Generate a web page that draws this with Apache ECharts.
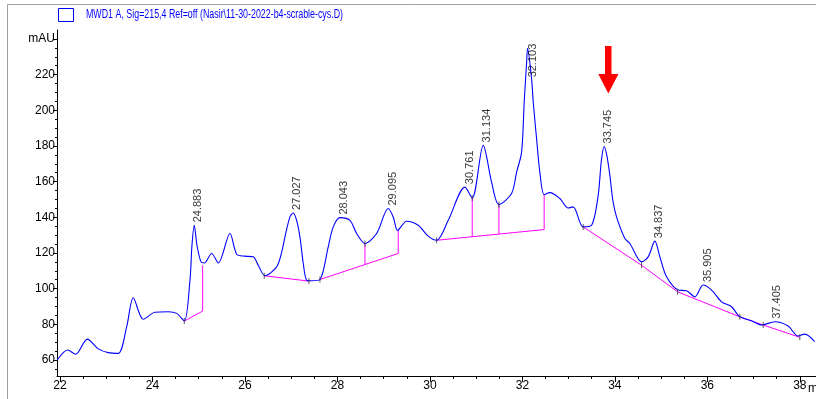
<!DOCTYPE html>
<html>
<head>
<meta charset="utf-8">
<script src="https://cdn.jsdelivr.net/npm/echarts@6/dist/echarts.min.js"></script>
<style>
html,body{margin:0;padding:0;background:#fff;}
#chart{width:816px;height:399px;}
</style>
</head>
<body>
<div id="chart"></div>
<script>
// ---- data ----
const seriesName = 'MWD1 A, Sig=215,4 Ref=off (Nasir\\11-30-2022-b4-scrable-cys.D)';
const traceTime = [21.94,22.166,22.339,22.59,22.828,23.044,23.261,23.442,23.585,23.801,24.054,24.342,24.523,24.688,24.811,24.854,24.904,24.962,25.049,25.12,25.28,25.423,25.676,25.821,26.0,26.179,26.288,26.432,26.685,26.793,26.865,26.973,27.044,27.117,27.189,27.261,27.334,27.442,27.622,27.801,27.909,28.054,28.27,28.415,28.595,28.848,29.098,29.206,29.301,29.496,29.747,29.963,30.145,30.396,30.757,30.915,31.153,31.334,31.492,31.766,31.875,31.983,32.039,32.092,32.112,32.199,32.235,32.307,32.378,32.471,32.595,32.811,32.99,33.098,33.314,33.496,33.639,33.708,33.768,33.827,33.892,33.957,34.036,34.216,34.324,34.577,34.72,34.865,34.973,35.118,35.369,35.55,35.73,35.909,36.091,36.307,36.523,36.703,36.956,37.172,37.459,37.747,37.964,38.108,38.324];
const traceAbs = [60.0,65.6,63.2,71.7,66.2,64.1,63.7,78.6,94.9,82.8,86.7,87.0,86.1,81.8,104.8,124.3,135.5,124.3,115.0,114.4,119.7,114.4,130.9,119.3,118.2,117.8,113.1,107.2,112.2,120.3,129.0,140.2,142.4,138.3,129.0,114.1,104.8,104.4,105.1,123.4,134.6,139.8,138.3,130.9,125.3,130.9,144.9,140.2,132.7,137.8,135.5,129.4,127.1,138.3,156.9,150.8,180.3,159.7,147.1,153.3,165.3,176.5,204.5,226.9,234.7,217.6,204.5,184.0,165.2,152.7,153.8,150.5,145.2,145.8,134.6,135.5,152.3,171.8,179.7,174.6,163.5,149.4,140.2,128.1,125.3,115.0,117.8,126.6,117.8,106.6,99.2,98.8,95.4,102.0,99.2,92.6,89.8,84.2,82.0,79.6,81.4,79.0,73.4,74.5,70.2];

const peakTimes = [24.883,27.027,28.043,29.095,30.761,31.134,32.103,33.745,34.837,35.905,37.405];
const peakHeights = [135.5,142.4,139.8,144.9,156.9,180.3,234.7,179.7,126.6,102.0,81.4];

const baselineA = [[24.688,81.8],[25.085,87.4],[25.085,113.1]];
const baselineB = [[26.417,107.2],[27.384,104.2]];
const baselineC = [[27.622,105.1],[29.315,119.7],[29.315,132.7]];
const baselineD = [[28.595,113.5],[28.595,125.3]];
const baselineE = [[30.145,127.1],[32.471,133.1],[32.471,152.7]];
const baselineF = [[30.915,129.1],[30.915,150.8]];
const baselineG = [[31.492,130.6],[31.492,147.1]];
const baselineH = [[33.315,134.6],[34.577,113.1],[35.356,98.2],[36.703,84.2],[37.207,79.6],[38.0,72.7]];

const markerTimes = [24.688,26.417,27.384,27.622,28.595,30.145,30.915,31.492,33.315,34.577,35.356,36.703,37.207,38.0];
const markerAbs   = [81.8,107.2,104.2,105.1,125.3,127.1,150.8,147.1,134.6,113.1,98.2,84.2,79.6,72.7];

const xLabelValues = [22,24,26,28,30,32,34,36,38];
const xMinorValues = [22,22.5,23,23.5,24,24.5,25,25.5,26,26.5,27,27.5,28,28.5,29,29.5,30,30.5,31,31.5,32,32.5,33,33.5,34,34.5,35,35.5,36,36.5,37,37.5,38];
const yLabelValues = [60,80,100,120,140,160,180,200,220,240];
const yMinorValues = [55,60,65,70,75,80,85,90,95,100,105,110,115,120,125,130,135,140,145,150,155,160,165,170,175,180,185,190,195,200,205,210,215,220,225,230,235,240];

// ---- chart ----
const FONT = "'Liberation Sans',Arial,sans-serif";
const chart = echarts.init(document.getElementById('chart'), null, {renderer:'canvas'});

// compress legend text horizontally like the original narrow font
const mctx = document.createElement('canvas').getContext('2d');
mctx.font = "12px 'Liberation Sans'";
const legendScale = 257 / mctx.measureText(seriesName).width;

const baselineStyle = {color:'#ff00ff', width:1};
function baseSeries(d){
  return {type:'line', data:d, symbol:'none', silent:true, lineStyle:baselineStyle, z:2, animation:false};
}

const xCommon = {type:'value', min:21.935, max:38.35, gridIndex:0, splitLine:{show:false}};
const yCommon = {type:'value', min:51, max:245, gridIndex:0, splitLine:{show:false}};

chart.setOption({
  animation:false,
  backgroundColor:'#fff',
  grid:{left:57, right:0, top:30, bottom:23},
  xAxis:[
    Object.assign({}, xCommon, {
      position:'bottom',
      axisLine:{show:true, lineStyle:{color:'#000', width:1}},
      axisTick:{show:true, length:6, lineStyle:{color:'#000'}, customValues:xLabelValues},
      axisLabel:{color:'#000', fontSize:12, fontFamily:FONT, margin:4, customValues:xLabelValues,
                 formatter:v=>String(v)}
    }),
    Object.assign({}, xCommon, {
      position:'bottom',
      axisLine:{show:false},
      axisTick:{show:true, length:3, lineStyle:{color:'#000'}, customValues:xMinorValues},
      axisLabel:{show:false}
    })
  ],
  yAxis:[
    Object.assign({}, yCommon, {
      position:'left',
      axisLine:{show:true, lineStyle:{color:'#000', width:1}},
      axisTick:{show:true, length:4, lineStyle:{color:'#000'}, customValues:yLabelValues},
      axisLabel:{color:'#000', fontSize:12, fontFamily:FONT, margin:2, customValues:yLabelValues,
                 formatter:v=>v===240?'mAU':String(v)}
    }),
    Object.assign({}, yCommon, {
      position:'left',
      axisLine:{show:false},
      axisTick:{show:true, length:2, lineStyle:{color:'#000'}, customValues:yMinorValues},
      axisLabel:{show:false}
    })
  ],
  graphic:[
    {type:'line', shape:{x1:7.5,y1:4.5,x2:816,y2:4.5}, style:{stroke:'#a0a0a0', lineWidth:1}, silent:true},
    {type:'line', shape:{x1:7.5,y1:4.5,x2:7.5,y2:399}, style:{stroke:'#a0a0a0', lineWidth:1}, silent:true},
    {type:'rect', shape:{x:58.5,y:8.5,width:15,height:13}, style:{fill:'#fff', stroke:'#0000ff', lineWidth:1}, silent:true},
    {type:'text', x:86, y:15, scaleX:legendScale, scaleY:1,
     style:{text:seriesName, fill:'#0000ff', font:"12px 'Liberation Sans'", textVerticalAlign:'middle', verticalAlign:'middle'}, silent:true},
    {type:'text', left:808, top:383, style:{text:'min', fill:'#000', font:"12px "+FONT}, silent:true},
    {type:'polygon', shape:{points:[[605,46],[611.5,46],[611.5,74],[618.5,74],[608.3,93.5],[598.3,74],[605,74]]},
     style:{fill:'#ff0000'}, silent:true}
  ],
  series:[
    baseSeries(baselineA), baseSeries(baselineB), baseSeries(baselineC), baseSeries(baselineD),
    baseSeries(baselineE), baseSeries(baselineF), baseSeries(baselineG), baseSeries(baselineH),
    {
      name:seriesName, type:'line', symbol:'none', smooth:0.3, z:3,
      lineStyle:{color:'#0000ff', width:1.1}, itemStyle:{color:'#0000ff'},
      data:traceTime.map((t,i)=>[t,traceAbs[i]])
    },
    {
      type:'scatter', symbol:'rect', symbolSize:[1,6], z:4, silent:true,
      itemStyle:{color:'#333'},
      data:markerTimes.map((t,i)=>[t,markerAbs[i]])
    },
    {
      type:'scatter', symbolSize:0, z:5, silent:true,
      label:{show:true, position:'top', distance:3, rotate:90, align:'left', verticalAlign:'middle',
             offset:[0,5], color:'#000', fontSize:11, fontFamily:FONT,
             formatter:p=>p.value[0].toFixed(3)},
      data:peakTimes.map((t,i)=>{
        const d = {value:[t,peakHeights[i]]};
        if (t===32.103) d.label = {offset:[-32,6]};
        return d;
      })
    }
  ]
});
</script>
</body>
</html>
